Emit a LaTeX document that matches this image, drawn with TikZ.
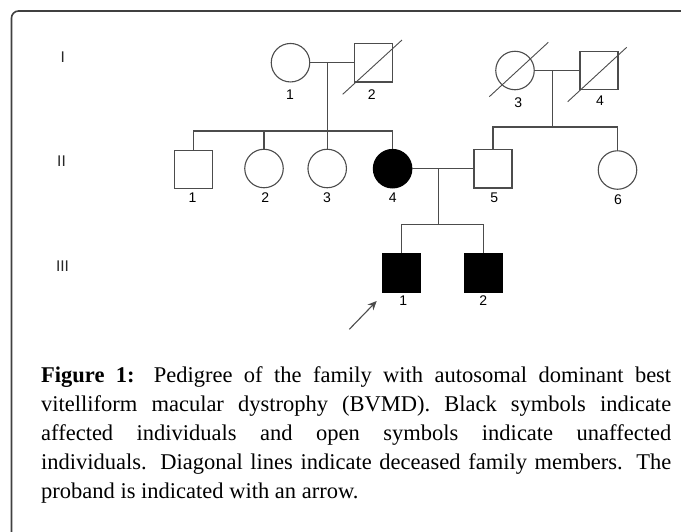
\documentclass[tikz,border=0pt]{standalone}
\usepackage{fontspec}
\setmainfont{Liberation Serif}
\newfontfamily\lsans{Liberation Sans}
\usetikzlibrary{arrows.meta}
\definecolor{ln}{rgb}{0.3,0.3,0.3}
\begin{document}
\begin{tikzpicture}[x=1pt,y=-1pt,
  ind/.style={draw=ln, line width=1.1pt, inner sep=0pt, fill=white},
  male/.style={ind, rectangle, minimum width=38pt, minimum height=38.5pt},
  female/.style={ind, circle, minimum size=38.5pt},
  aff/.style={fill=black, draw=black},
  lbl/.style={font=\lsans\fontsize{14}{14}\selectfont, inner sep=0pt},
  genlbl/.style={font=\lsans\fontsize{15.5}{15.5}\selectfont, inner sep=0pt, text=black!85},
  link/.style={draw=ln, line width=1.1pt},
  dead/.style={draw=ln, line width=0.9pt},
  frame/.style={draw=black!75, line width=1.6pt, rounded corners=7pt}
]
\useasboundingbox (0,0) rectangle (681,531);
\draw[frame] (700,11) -- (11.5,11) -- (11.5,560);

% generation numerals
\node[genlbl] (gI) at (62.7,57) {I};
\node[genlbl] (gII) at (61.5,161.5) {II};
\node[genlbl] (gIII) at (62.5,266) {III};

% generation I
\node[female] (I1) at (290.5,62.7) {};
\node[male] (I2) at (373.5,62.7) {};
\node[female] (I3) at (515,70.5) {};
\node[male] (I4) at (599,70.5) {};
\draw[dead] (342.7,94.3) -- (402,40);
\draw[dead] (489.3,96.7) -- (548.3,42.3);
\draw[dead] (567.7,101.7) -- (626.7,47.3);
\node[lbl] (lI1) at (290,95) {1};
\node[lbl] (lI2) at (371.7,95) {2};
\node[lbl] (lI3) at (518.3,102.7) {3};
\node[lbl] (lI4) at (600,100.7) {4};

% generation II
\node[male] (II1) at (193.4,169.4) {};
\node[female] (II2) at (264,168.5) {};
\node[female] (II3) at (327.2,168.5) {};
\node[female, aff] (II4) at (392.6,168.7) {};
\node[male] (II5) at (493,168.7) {};
\node[female] (II6) at (617.5,170) {};
\node[lbl] (lII1) at (192.4,197.5) {1};
\node[lbl] (lII2) at (265.3,197.5) {2};
\node[lbl] (lII3) at (327,197.5) {3};
\node[lbl] (lII4) at (392.8,197.5) {4};
\node[lbl] (lII5) at (494.2,197.5) {5};
\node[lbl] (lII6) at (618,199.8) {6};

% generation III
\node[male, aff] (III1) at (401.2,273) {};
\node[male, aff] (III2) at (483.8,273) {};
\node[lbl] (lIII1) at (403.3,301) {1};
\node[lbl] (lIII2) at (483.3,301) {2};

% couples and sibships
\coordinate (m1) at (327.3,62.7);
\coordinate (s1) at (327.3,131);
\draw[link] (I1.east) -- (I2.west);
\draw[link] (m1) -- (s1);
\draw[link] (II1.north) -- (II1.north |- s1) -- (II4.north |- s1) -- (II4.north);
\draw[link] (II2.north) -- (II2.north |- s1);
\draw[link] (II3.north) -- (II3.north |- s1);

\coordinate (m2) at (552.7,70.5);
\coordinate (s2) at (552.7,127);
\draw[link] (I3.east) -- (I4.west);
\draw[link] (m2) -- (s2);
\draw[link] (II5.north) -- (II5.north |- s2) -- (II6.north |- s2) -- (II6.north);

\coordinate (m3) at (438.6,168.7);
\coordinate (s3) at (438.6,224.3);
\draw[link] (II4.east) -- (II5.west);
\draw[link] (m3) -- (s3);
\draw[link] (III1.north) -- (III1.north |- s3) -- (III2.north |- s3) -- (III2.north);

% proband arrow
\coordinate (pa) at (349.3,329.3);
\coordinate (pb) at (376.7,301);
\draw[draw=ln, line width=1.1pt, -{Stealth[length=9pt,width=8pt]}] (pa) -- (pb);

% caption
\node[anchor=north west, inner sep=0pt, text width=630pt, align=justify,
      font=\fontsize{22.5}{29}\selectfont] (cap) at (41,366)
  {\textbf{Figure 1:} Pedigree of the family with autosomal dominant best\linebreak
   vitelliform macular dystrophy (BVMD). Black symbols indicate\linebreak
   affected individuals and open symbols indicate unaffected\linebreak
   individuals. Diagonal lines indicate deceased family members. The\linebreak
   proband is indicated with an arrow.};
\end{tikzpicture}
\end{document}
